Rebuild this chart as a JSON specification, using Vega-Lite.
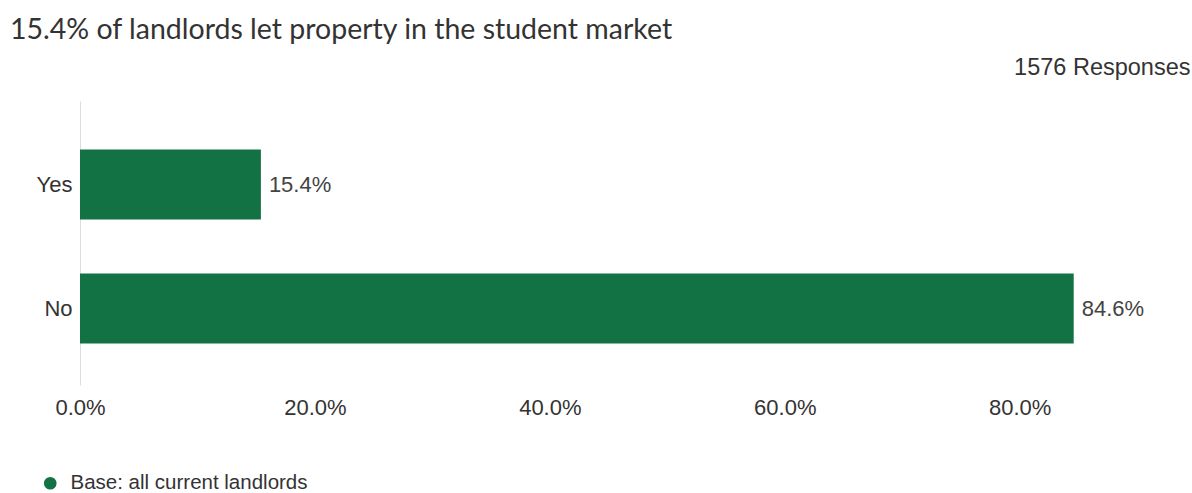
{
  "$schema": "https://vega.github.io/schema/vega-lite/v6.json",
  "width": 1110,
  "height": 284,
  "autosize": {"type": "none"},
  "padding": {"left": 80, "top": 101, "right": 2, "bottom": 108},
  "background": "white",
  "title": {
    "text": "15.4% of landlords let property in the student market",
    "anchor": "start",
    "frame": "group",
    "dx": -70,
    "dy": 32,
    "font": "Lato",
    "fontSize": 28.5,
    "fontWeight": "normal",
    "color": "#333333",
    "baseline": "alphabetic",
    "offset": 20
  },
  "config": {
    "view": {"stroke": null},
    "font": "Liberation Sans"
  },
  "data": {
    "values": [
      {"answer": "Yes", "share": 0.154, "base": "Base: all current landlords"},
      {"answer": "No", "share": 0.846, "base": "Base: all current landlords"}
    ]
  },
  "encoding": {
    "y": {
      "field": "answer",
      "type": "nominal",
      "sort": ["Yes", "No"],
      "scale": {"paddingInner": 0.4355, "paddingOuter": 0.363, "align": 0.54},
      "axis": {
        "title": null,
        "ticks": false,
        "domain": true,
        "domainColor": "#dddddd",
        "domainWidth": 1,
        "labelPadding": 8,
        "labelFontSize": 22,
        "labelColor": "#333333",
        "labelFont": "Liberation Sans"
      }
    }
  },
  "layer": [
    {
      "mark": {"type": "bar"},
      "encoding": {
        "x": {
          "field": "share",
          "type": "quantitative",
          "scale": {"domain": [0, 0.945], "nice": false, "zero": true},
          "axis": {
            "orient": "bottom",
            "title": null,
            "values": [0, 0.2, 0.4, 0.6, 0.8],
            "format": ".1%",
            "grid": false,
            "ticks": false,
            "domain": false,
            "labelFlush": false,
            "labelPadding": 12,
            "labelFontSize": 22,
            "labelColor": "#333333",
            "labelFont": "Liberation Sans"
          }
        },
        "color": {
          "field": "base",
          "type": "nominal",
          "scale": {"range": ["#127244"]},
          "legend": {
            "title": null,
            "orient": "none",
            "legendX": -40,
            "legendY": 372,
            "symbolType": "circle",
            "symbolSize": 160,
            "labelFontSize": 20.5,
            "labelLimit": 500,
            "labelColor": "#333333",
            "labelFont": "Liberation Sans",
            "labelOffset": 10
          }
        }
      }
    },
    {
      "mark": {
        "type": "text",
        "align": "left",
        "baseline": "middle",
        "dx": 8,
        "fontSize": 22,
        "font": "Liberation Sans",
        "color": "#444444"
      },
      "encoding": {
        "x": {
          "field": "share",
          "type": "quantitative",
          "axis": {
            "orient": "top",
            "title": "1576 Responses",
            "titleAnchor": "end",
            "titleAlign": "right",
            "titleBaseline": "alphabetic",
            "titlePadding": 27,
            "titleFontSize": 23.5,
            "titleFontWeight": "normal",
            "titleColor": "#333333",
            "titleFont": "Liberation Sans",
            "labels": false,
            "ticks": false,
            "domain": false,
            "grid": false
          }
        },
        "text": {"field": "share", "type": "quantitative", "format": ".1%"}
      }
    }
  ],
  "resolve": {"axis": {"x": "independent"}}
}
